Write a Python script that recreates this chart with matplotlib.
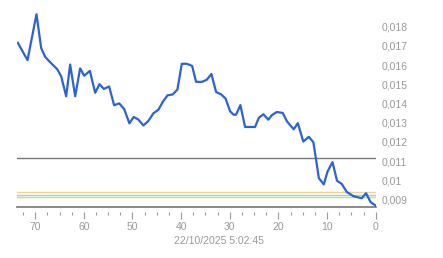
import matplotlib
matplotlib.use("Agg")
import matplotlib.pyplot as plt
from matplotlib.ticker import MultipleLocator, FuncFormatter

plt.rcParams["font.family"] = ["Liberation Sans", "DejaVu Sans"]

# ============================================================
# DATA
# ============================================================

ago = [73.56, 71.58, 69.73, 68.77, 67.95, 66.92, 65.48, 64.66, 63.63, 62.81,
       61.78, 60.76, 59.93, 58.76, 57.67, 56.79, 55.89, 54.80, 53.77, 52.74,
       51.72, 50.63, 49.76, 48.84, 47.75, 46.72, 45.70, 44.67, 43.64, 42.78,
       41.75, 40.76, 39.86, 38.83, 37.74, 36.92, 35.69, 34.72, 33.78, 32.81,
       31.79, 30.86, 29.94, 29.22, 28.70, 27.82, 26.85, 24.80, 24.02, 23.09,
       22.07, 21.37, 20.34, 19.11, 18.23, 16.85, 16.01, 14.88, 13.75, 12.82,
       12.20, 11.69, 10.68, 9.90, 8.88, 7.95, 6.99, 5.96, 4.60, 2.88,
       1.99, 1.03, 0.0]

price = [0.01716, 0.01626, 0.01865, 0.01689, 0.01643, 0.01615, 0.01579, 0.01542, 0.01438, 0.01603,
         0.01438, 0.01583, 0.01545, 0.01570, 0.01456, 0.01501, 0.01476, 0.01489, 0.01391, 0.01401,
         0.01372, 0.01297, 0.01330, 0.01318, 0.01286, 0.01310, 0.01349, 0.01368, 0.01414, 0.01443,
         0.01447, 0.01473, 0.01607, 0.01607, 0.01596, 0.01513, 0.01513, 0.01524, 0.01554, 0.01460,
         0.01448, 0.01426, 0.01360, 0.01342, 0.01342, 0.01392, 0.01278, 0.01278, 0.01326, 0.01344,
         0.01316, 0.01339, 0.01356, 0.01351, 0.01307, 0.01266, 0.01298, 0.01202, 0.01227, 0.01199,
         0.01098, 0.01012, 0.00979, 0.01046, 0.01095, 0.00998, 0.00982, 0.00940, 0.00918, 0.00907,
         0.00933, 0.00886, 0.00869]

levels = [0.01118, 0.00942, 0.00926, 0.00916]
level_colors = ["#777777", "#eed493", "#a6da96", "#b3e0a3"]

timestamp = "22/10/2025 5:02:45"

# ============================================================
# PLOT
# ============================================================

y_lo, y_hi = 0.00863, 0.01895
px_per_unit = 19209
ax_h = (y_hi - y_lo) * px_per_unit

fig = plt.figure(figsize=(4.43, 2.58), dpi=100)
ax = fig.add_axes([16.7 / 443, (258 - 206.7) / 258, (375.7 - 16.7) / 443, ax_h / 258])

for lvl, col in zip(levels, level_colors):
    ax.axhline(lvl, color=col, linewidth=1.0, zorder=1)

ax.axhline(y_lo, color="#777777", linewidth=1.2, clip_on=False, zorder=1)

ax.plot(ago, price, color="#2b62d4", linewidth=1.6, zorder=3)

ax.set_xlim(73.8, 0)
ax.set_ylim(y_lo, y_hi)

for s in ax.spines.values():
    s.set_visible(False)
ax.spines["bottom"].set_position(("outward", 4))

ax.xaxis.set_major_locator(MultipleLocator(10))
ax.xaxis.set_minor_locator(MultipleLocator(2.5))
ax.tick_params(axis="x", which="major", length=5, width=0.8, color="#999999",
               labelcolor="#999999", labelsize=7.5, pad=2)
ax.tick_params(axis="x", which="minor", length=2.5, width=0.8, color="#999999")

ax.yaxis.tick_right()
ax.yaxis.set_major_locator(MultipleLocator(0.001))
ax.yaxis.set_major_formatter(FuncFormatter(lambda v, p: ("%g" % round(v, 4)).replace(".", ",")))
ax.tick_params(axis="y", length=0, labelcolor="#999999", labelsize=7.5, pad=4)

fig.text(219 / 443, 1 - 240.7 / 258, timestamp, ha="center", va="center",
         color="#999999", fontsize=7.5)

fig.savefig("out.png", dpi=100)
